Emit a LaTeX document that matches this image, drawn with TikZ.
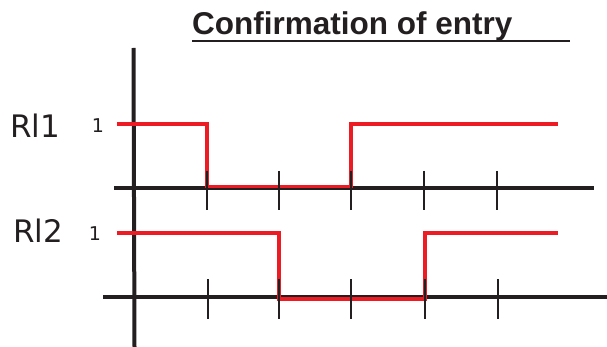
\documentclass[tikz,border=0pt]{standalone}
\usepackage{fontspec}
\setmainfont{DejaVu Sans}
\newfontfamily\titlefont{Liberation Sans}
\definecolor{sigred}{HTML}{ED1C24}
\definecolor{axisblack}{HTML}{231F20}
\begin{document}
\begin{tikzpicture}[x=1pt,y=-1pt,
  axis/.style={line width=4pt,draw=axisblack},
  tick/.style={line width=1.5pt,draw=axisblack},
  signal/.style={line width=3.5pt,draw=sigred,line join=miter},
  rlabel/.style={inner sep=0pt,font=\fontsize{31}{31}\selectfont,text=axisblack},
  onelabel/.style={inner sep=0pt,font=\fontsize{19}{19}\selectfont,text=axisblack}]
\useasboundingbox (0,0) rectangle (607,347);
% title
\node[anchor=base west,inner sep=0pt,text=axisblack,font=\titlefont\bfseries\fontsize{31.5}{31.5}\selectfont] (title) at (192,35) {Confirmation of entry};
\draw[line width=2pt,draw=axisblack] (192,41) -- (570,41);
% axes
\draw[axis] (133.5,48) -- (134.5,347);
\draw[axis] (114,188) -- (594,188);
\draw[axis] (103,296.5) -- (607,296.5);
% signals
\draw[signal] (117,124) -- (207,124) -- (207,186.5) -- (351,186.5) -- (351,124) -- (558,124);
\draw[signal] (117,233) -- (279,233) -- (279,299) -- (425,299) -- (425,233) -- (558,233);
% ticks
\foreach \x in {207,279,351,424,497} \draw[tick] (\x,171) -- (\x,210);
\foreach \x in {208,279,351,425,498} \draw[tick] (\x,279) -- (\x,319);
% labels
\node[rlabel,anchor=base west] (rl1) at (10,138) {Rl1};
\node[rlabel,anchor=base west] (rl2) at (13,243) {Rl2};
\node[onelabel] (one1) at (98,126) {1};
\node[onelabel] (one2) at (95,234) {1};
\end{tikzpicture}
\end{document}
